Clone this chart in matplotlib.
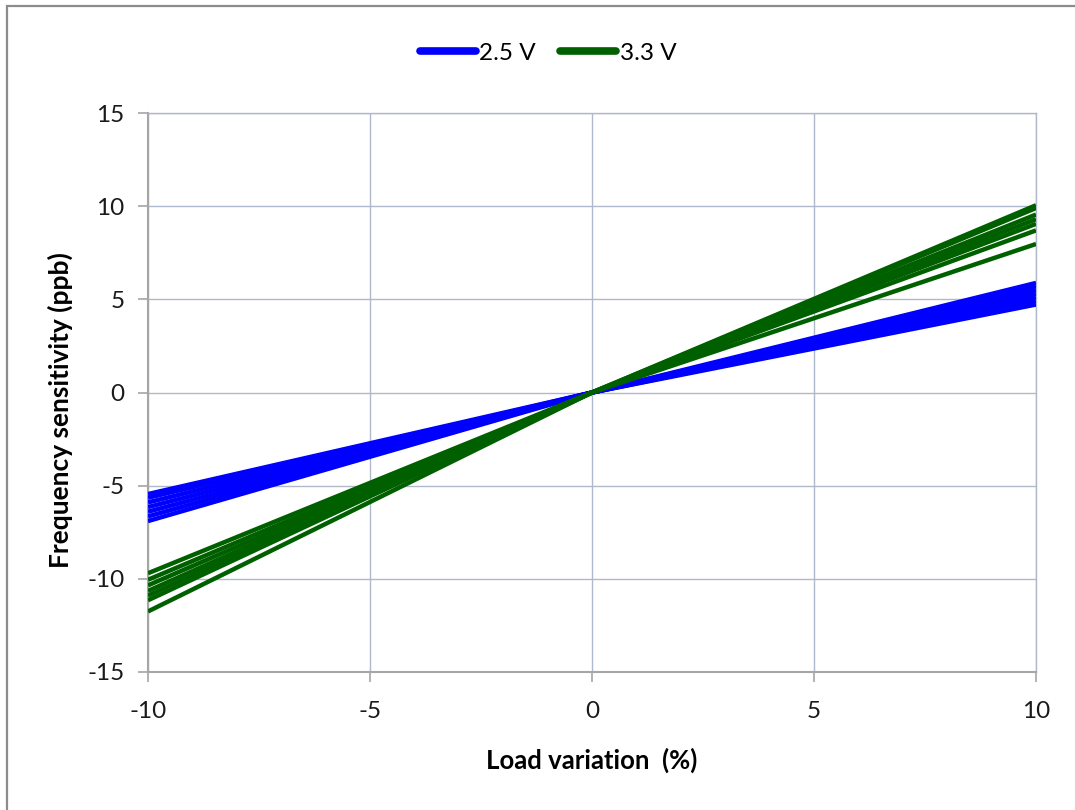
import matplotlib.pyplot as plt
from matplotlib.patches import Rectangle


# Load variation (%) at the two ends of every trace; all traces pass through 0.
load_points = [-10, 0, 10]

# Frequency sensitivity (ppb) read at -10 % and +10 % load for each trace.
v25_left = [-5.45, -5.65, -5.9, -6.15, -6.4, -6.65, -6.9]
v25_right = [4.72, 4.9, 5.1, 5.3, 5.5, 5.7, 5.88]

v33_left = [-9.7, -10.05, -10.35, -10.65, -10.9, -11.15, -11.75]
v33_right = [7.97, 8.7, 9.05, 9.3, 9.55, 9.9, 10.05]

x_ticks = [-10, -5, 0, 5, 10]
y_ticks = [-15, -10, -5, 0, 5, 10, 15]

BLUE = "#0000FF"
GREEN = "#006000"
GRID = "#AEB9CC"
SPINE = "#A6A6A6"
FONT = "Lato"


def draw_traces(ax, lefts, rights, color, label):
    for i, (y_left, y_right) in enumerate(zip(lefts, rights)):
        ax.plot(
            load_points,
            [y_left, 0, y_right],
            color=color,
            linewidth=3.2,
            solid_capstyle="butt",
            label=label if i == 0 else None,
            zorder=3,
        )


def main() -> None:
    plt.rcParams["font.family"] = [FONT, "DejaVu Sans"]
    plt.rcParams["axes.unicode_minus"] = False

    fig = plt.figure(figsize=(10.75, 8.10), dpi=100)
    ax = fig.add_axes([148 / 1075, 1 - 672 / 810, 888 / 1075, 559 / 810])

    draw_traces(ax, v25_left, v25_right, BLUE, "2.5 V")
    draw_traces(ax, v33_left, v33_right, GREEN, "3.3 V")

    ax.set_xlim(-10, 10)
    ax.set_ylim(-15, 15)
    ax.set_xticks(x_ticks)
    ax.set_yticks(y_ticks)

    ax.grid(True, color=GRID, linewidth=1.0, zorder=0)
    ax.set_axisbelow(True)

    for side in ["top", "right"]:
        ax.spines[side].set_color(GRID)
        ax.spines[side].set_linewidth(1.0)
    for side in ["left", "bottom"]:
        ax.spines[side].set_color(SPINE)
        ax.spines[side].set_linewidth(1.5)

    ax.tick_params(
        axis="both", direction="out", length=7, width=1.2, color=SPINE,
        labelsize=17.5, labelcolor="#1a1a1a", pad=10,
    )
    ax.tick_params(axis="x", pad=14)

    ax.set_xlabel("Load variation  (%)", fontsize=18.5, fontweight="bold", labelpad=18)
    ax.set_ylabel("Frequency sensitivity (ppb)", fontsize=19, fontweight="bold")
    # The original title sits a little below the middle of the axis.
    ax.yaxis.set_label_coords(-0.085, 0.469)

    leg = fig.legend(
        loc="center",
        bbox_to_anchor=(548 / 1075, 1 - 53 / 810),
        ncol=2,
        frameon=False,
        fontsize=17.5,
        handlelength=2.3,
        handletextpad=0.15,
        columnspacing=1.0,
    )
    for line in leg.get_lines():
        line.set_linewidth(5.5)
        line.set_solid_capstyle("round")

    # Outer chart frame, cut off on the right and bottom like the original.
    fig.patches.append(
        Rectangle(
            (7 / 1075, -0.05), 1.1, 1.05 - 6 / 810,
            transform=fig.transFigure, fill=False,
            edgecolor="#8C8C8C", linewidth=1.6,
        )
    )

    fig.savefig("out.png", dpi=100)
    plt.close(fig)


if __name__ == "__main__":
    main()
